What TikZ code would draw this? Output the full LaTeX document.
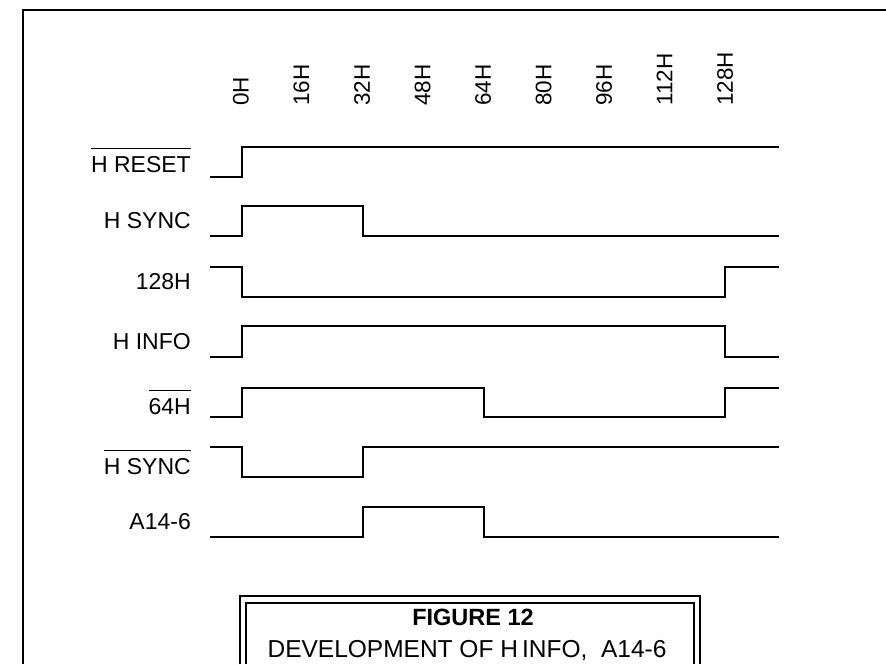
\documentclass[tikz,border=0pt]{standalone}
\usepackage{fontspec}
\setmainfont{Liberation Sans}
\newcommand\ovl[1]{\vbox{\hrule height 1.6pt\kern 7pt\hbox{#1}}}
\begin{document}
\begin{tikzpicture}[x=1pt,y=-1pt,
  sig/.style={line width=2.6pt},
  frame/.style={line width=2.6pt},
  lbl/.style={font=\fontsize{23}{27}\selectfont, anchor=east, inner sep=0pt},
  tick/.style={font=\fontsize{22.5}{26}\selectfont, rotate=90, anchor=west, inner sep=0pt},
  captext/.style={font=\fontsize{24.5}{28}\selectfont, inner sep=0pt}]
\useasboundingbox (0,0) rectangle (886,664);
\fill[white] (0,0) rectangle (886,664);
% outer frame
\draw[frame] (23,664) -- (23,10) -- (886,10);
% time axis labels
\node[tick] (t0)   at (241,106) {0H};
\node[tick] (t16)  at (301.5,106) {16H};
\node[tick] (t32)  at (362,106) {32H};
\node[tick] (t48)  at (422.5,106) {48H};
\node[tick] (t64)  at (483,106) {64H};
\node[tick] (t80)  at (543.5,106) {80H};
\node[tick] (t96)  at (604,106) {96H};
\node[tick] (t112) at (664.5,106) {112H};
\node[tick] (t128) at (725,106) {128H};
% signal labels
\node[lbl] (l1) at (191,160) {\ovl{H RESET}};
\node[lbl] (l2) at (191,221) {H SYNC};
\node[lbl] (l3) at (191,282) {128H};
\node[lbl] (l4) at (191,342) {H INFO};
\node[lbl] (l5) at (191,402) {\ovl{64H}};
\node[lbl] (l6) at (191,462) {\ovl{H SYNC}};
\node[lbl] (l7) at (191,522) {A14-6};
% waveforms
\draw[sig] (210,177) -- (242,177) -- (242,147) -- (779,147);
\draw[sig] (210,236) -- (242,236) -- (242,206) -- (363,206) -- (363,236) -- (779,236);
\draw[sig] (210,267) -- (242,267) -- (242,297) -- (725,297) -- (725,267) -- (779,267);
\draw[sig] (210,357) -- (242,357) -- (242,326) -- (725,326) -- (725,357) -- (779,357);
\draw[sig] (210,417) -- (242,417) -- (242,388) -- (484,388) -- (484,417) -- (725,417) -- (725,388) -- (779,388);
\draw[sig] (210,447) -- (242,447) -- (242,477) -- (363,477) -- (363,447) -- (779,447);
\draw[sig] (210,537) -- (363,537) -- (363,507) -- (484,507) -- (484,537) -- (779,537);
% caption box
\draw[line width=2.2pt] (240,664) -- (240,596) -- (700,596) -- (700,664);
\draw[line width=2pt] (245.5,664) -- (245.5,603) -- (694,603) -- (694,664);
\node[captext, font=\fontsize{23.5}{27}\selectfont\bfseries] (fig) at (473,617) {FIGURE 12};
\node[captext] (dev) at (467,651) {DEVELOPMENT OF H\,INFO,\ \ A14-6};
\end{tikzpicture}
\end{document}
